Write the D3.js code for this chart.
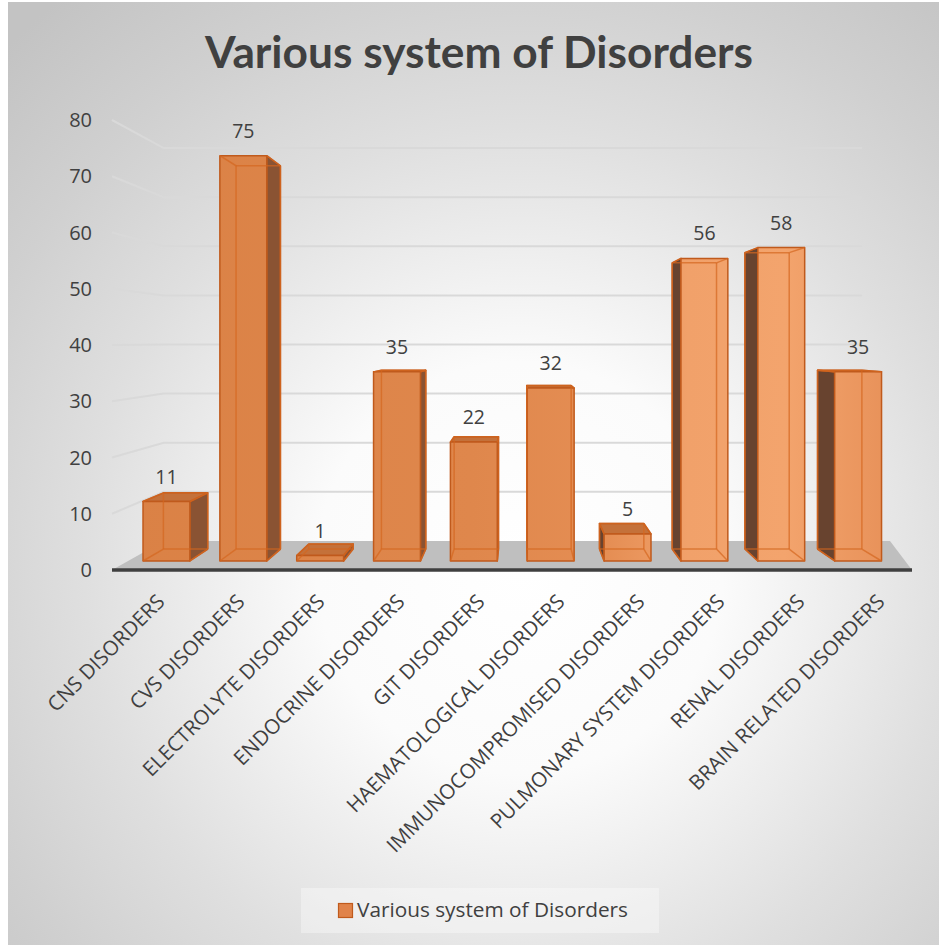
<!DOCTYPE html>
<html>
<head>
<meta charset="utf-8">
<script src="https://cdnjs.cloudflare.com/ajax/libs/d3/7.8.5/d3.min.js"></script>
<style>
  html, body { margin: 0; padding: 0; background: #fff; }
  svg { display: block; }
</style>
</head>
<body>
<svg id="chart" width="939" height="945"></svg>
<script>
// ---- data ----
const categories = [
  "CNS DISORDERS", "CVS DISORDERS", "ELECTROLYTE DISORDERS", "ENDOCRINE DISORDERS",
  "GIT DISORDERS", "HAEMATOLOGICAL DISORDERS", "IMMUNOCOMPROMISED DISORDERS",
  "PULMONARY SYSTEM DISORDERS", "RENAL DISORDERS", "BRAIN RELATED DISORDERS"
];
const values = [11, 75, 1, 35, 22, 32, 5, 56, 58, 35];
const yTicks = [0, 10, 20, 30, 40, 50, 60, 70, 80];
const seriesName = "Various system of Disorders";
const chartTitle = "Various system of Disorders";

// ---- setup ----
const W = 939, H = 945;
const svg = d3.select("#chart");
const defs = svg.append("defs");
const textColor = "#404040";
const font = "'Open Sans', 'Noto Sans', sans-serif";

// chart-area background: soft radial light
const bg = defs.append("radialGradient").attr("id", "bgGrad")
  .attr("cx", 0.55).attr("cy", 0.6).attr("r", 0.78);
[[0, "#ffffff"], [0.28, "#fbfbfb"], [0.6, "#dfdfdf"], [0.8, "#d0d0d0"], [1, "#c3c3c3"]]
  .forEach(([o, c]) => bg.append("stop").attr("offset", o).attr("stop-color", c));

// front-face lighting across the plot
const fg = defs.append("linearGradient").attr("id", "frontGrad")
  .attr("gradientUnits", "userSpaceOnUse").attr("x1", 112).attr("x2", 912).attr("y1", 0).attr("y2", 0);
[[0, "#da8145"], [0.45, "#df874c"], [0.62, "#e58e54"], [0.72, "#f1a16a"], [0.84, "#f3a46d"], [1, "#e58d55"]]
  .forEach(([o, c]) => fg.append("stop").attr("offset", o).attr("stop-color", c));

svg.append("rect").attr("x", 0).attr("y", 0).attr("width", W).attr("height", H).attr("fill", "#fff");
svg.append("rect").attr("x", 8).attr("y", 2).attr("width", W - 8).attr("height", H - 2)
  .attr("fill", "url(#bgGrad)");

// ---- scales & perspective ----
const x = d3.scaleBand().domain(categories).range([112, 912]).paddingInner(0.39).paddingOuter(0.195);
const y = d3.scaleLinear().domain([0, 80]).range([570, 120]);
const vp = { x: 519, y: 341 };     // vanishing point
const depthK = 0.127;              // shrink from floor front (z=0) to back wall (z=1)
const zFront = 0.31, zBack = 0.72; // bar depth on the floor
function proj(px, v, z) {
  const s = 1 - depthK * z;
  return [vp.x + (px - vp.x) * s, vp.y + (y(v) - vp.y) * s];
}
const xMin = x.range()[0], xMax = x.range()[1];
const floorOverhang = 32;          // floor runs a little past the back wall on the right
const line = d3.line();

// ---- floor ----
svg.append("path")
  .attr("d", line([proj(xMin, 0, 0), proj(xMax, 0, 0), proj(xMax + floorOverhang, 0, 1), proj(xMin, 0, 1)]) + "Z")
  .attr("fill", "#bfbfbf");

// ---- gridlines on side wall and back wall ----
svg.append("g").selectAll("path").data(yTicks.filter(t => t > 0)).join("path")
  .attr("d", t => line([proj(xMin, t, 0), proj(xMin, t, 1), proj(xMax, t, 1)]))
  .attr("fill", "none").attr("stroke", "#d9d9d9").attr("stroke-width", 2);

// floor front edge (category axis line)
svg.append("path").attr("d", line([proj(xMin, 0, 0), proj(xMax, 0, 0)]))
  .attr("stroke", "#3f3f3f").attr("stroke-width", 3.5);

// ---- value axis labels ----
svg.append("g").selectAll("text").data(yTicks).join("text")
  .attr("x", 92).attr("y", t => y(t)).attr("dy", "0.35em")
  .attr("text-anchor", "end").attr("font-family", font).attr("font-size", 20)
  .attr("fill", textColor).text(t => t);

// ---- 3D columns ----
const bw = x.bandwidth();
const bars = svg.append("g");
categories.forEach((c, i) => {
  const v = values[i];
  const xl = x(c), xr = xl + bw;
  const g = bars.append("g");
  const face = pts => line(pts) + "Z";
  const fTop = [proj(xl, v, zFront), proj(xr, v, zFront), proj(xr, v, zBack), proj(xl, v, zBack)];
  const fRight = [proj(xr, 0, zFront), proj(xr, 0, zBack), proj(xr, v, zBack), proj(xr, v, zFront)];
  const fLeft = [proj(xl, 0, zFront), proj(xl, 0, zBack), proj(xl, v, zBack), proj(xl, v, zFront)];
  const fFront = [proj(xl, 0, zFront), proj(xr, 0, zFront), proj(xr, v, zFront), proj(xl, v, zFront)];
  const stroke = "#c05a1c";

  if (xr < vp.x) g.append("path").attr("d", face(fRight)).attr("fill", "#8a5333").attr("stroke", stroke).attr("stroke-width", 1.5).attr("stroke-linejoin", "round");
  if (xl > vp.x) g.append("path").attr("d", face(fLeft)).attr("fill", "#68432f").attr("stroke", stroke).attr("stroke-width", 1.5).attr("stroke-linejoin", "round");
  if (y(v) > vp.y) g.append("path").attr("d", face(fTop)).attr("fill", "#c4713a").attr("stroke", stroke).attr("stroke-width", 1.5).attr("stroke-linejoin", "round");
  g.append("path").attr("d", face(fFront)).attr("fill", "url(#frontGrad)").attr("stroke", stroke).attr("stroke-width", 1.5).attr("stroke-linejoin", "round");

  // hidden back edges glimpsed through the translucent column
  const hidden = [
    [proj(xl, 0, zBack), proj(xr, 0, zBack)],
    [proj(xl, 0, zBack), proj(xl, v, zBack)],
    [proj(xr, 0, zBack), proj(xr, v, zBack)],
    [proj(xl, v, zBack), proj(xr, v, zBack)],
    [proj(xl, 0, zFront), proj(xl, 0, zBack)],
    [proj(xr, 0, zFront), proj(xr, 0, zBack)],
    [proj(xl, v, zFront), proj(xl, v, zBack)],
    [proj(xr, v, zFront), proj(xr, v, zBack)]
  ];
  g.selectAll("path.h").data(hidden).join("path").attr("class", "h")
    .attr("d", d => line(d)).attr("stroke", "#d4661f").attr("stroke-opacity", 0.7)
    .attr("stroke-width", 1.5).attr("fill", "none");

  // value label above the column
  const top = proj(xl + bw / 2, v, zFront);
  svg.append("text").attr("x", top[0]).attr("y", top[1] - 18)
    .attr("text-anchor", "middle").attr("font-family", font).attr("font-size", 19.5)
    .attr("fill", textColor).text(v);
});

// ---- category labels ----
svg.append("g").selectAll("text").data(categories).join("text")
  .attr("transform", c => `translate(${x(c) + bw / 2 + 14},603) rotate(-45)`)
  .attr("text-anchor", "end").attr("font-family", font).attr("font-size", 20.5)
  .attr("fill", textColor).text(c => c);

// ---- title ----
svg.append("text").attr("x", 479).attr("y", 68).attr("text-anchor", "middle")
  .attr("font-family", "Lato, 'Open Sans', sans-serif").attr("font-weight", "bold")
  .attr("font-size", 43).attr("fill", textColor)
  .attr("textLength", 548).attr("lengthAdjust", "spacingAndGlyphs")
  .text(chartTitle);

// ---- legend ----
const lg = svg.append("g");
lg.append("rect").attr("x", 301).attr("y", 888).attr("width", 358).attr("height", 45)
  .attr("fill", "#ffffff").attr("fill-opacity", 0.35);
lg.append("rect").attr("x", 338.5).attr("y", 903.5).attr("width", 14).attr("height", 14)
  .attr("fill", "#e0834a").attr("stroke", "#c05a1c").attr("stroke-width", 1.2);
lg.append("text").attr("x", 357).attr("y", 917).attr("font-family", font).attr("font-size", 20.5)
  .attr("fill", textColor).attr("textLength", 271).attr("lengthAdjust", "spacingAndGlyphs")
  .text(seriesName);
</script>
</body>
</html>
